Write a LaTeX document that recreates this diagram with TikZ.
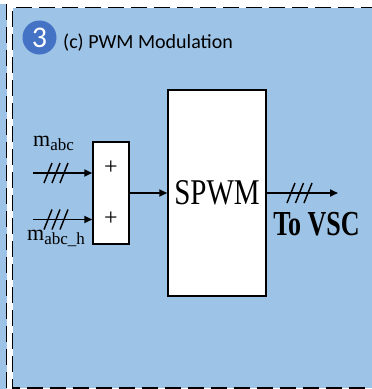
\documentclass[tikz,border=0pt]{standalone}
\usepackage{fontspec}
\setmainfont{Liberation Serif}
\newfontfamily\titlefont{Carlito}
\usetikzlibrary{arrows.meta,positioning}
\definecolor{panelblue}{RGB}{157,195,230}
\definecolor{badgeblue}{RGB}{68,114,196}

\begin{document}
\begin{tikzpicture}[x=1pt, y=-1pt, >={Triangle[length=8pt,width=7pt]},
    frame/.style={black, line width=1.8pt, dash pattern=on 16pt off 7pt},
    blk/.style={draw, fill=white, line width=1.5pt, inner sep=0pt},
    sig/.style={->, line width=1.8pt},
    tick/.style={line width=1.4pt}]
    \useasboundingbox (0,0) rectangle (372,389);
    \begin{scope}
        \clip (0,0) rectangle (372,389);
        % neighbouring panel
        \fill[panelblue] (-20,4) rectangle (6.5,400);
        \draw[frame] (6.5,4) -- (6.5,400);
        % panel (c)
        \fill[panelblue] (12.5,7.5) rectangle (400,388);
        \draw[frame] (400,7.5) -- (12.5,7.5) -- (12.5,388) -- (400,388);
    \end{scope}

    \node[circle, fill=badgeblue, minimum size=34pt, inner sep=0pt, text=white,
          font=\titlefont\fontsize{30}{30}\selectfont] (badge) at (39.5,37.5) {3};
    \node[anchor=west, inner sep=0pt, font=\titlefont\fontsize{20}{20}\selectfont] (title) at (63,43) {(c) PWM Modulation};

    \node[blk, minimum width=36pt, minimum height=102pt] (sum) at (111,193) {};
    \node[font=\fontsize{24}{24}\selectfont] (plusa) at (111,168) {+};
    \node[font=\fontsize{24}{24}\selectfont] (plusb) at (111,219) {+};
    \node[blk, minimum width=98pt, minimum height=206pt] (spwm) at (217,193)
        {\scalebox{1}[1.25]{\fontsize{29}{29}\selectfont SPWM}};

    \coordinate (ina) at (33,173);
    \coordinate (inb) at (33,219.5);
    \coordinate (out) at (338,193);

    \node[anchor=base west, inner sep=0pt] (labela) at (33,146.7)
        {\fontsize{22}{22}\selectfont m\raisebox{-4pt}{\fontsize{17}{17}\selectfont abc}};
    \node[anchor=base west, inner sep=0pt] (labelb) at (27,240)
        {\fontsize{22}{22}\selectfont m\raisebox{-4pt}{\fontsize{17}{17}\selectfont abc\_h}};

    \draw[sig] (ina) -- (ina -| sum.west);
    \draw[sig] (inb) -- (inb -| sum.west);
    \draw[sig] (sum.east) -- (spwm.west);
    \draw[sig] (spwm.east) -- (out);

    \foreach \sx in {48,56,64} {
        \draw[tick] (\sx-4,183) -- (\sx+4,163);
        \draw[tick] (\sx-4,229.5) -- (\sx+4,209.5);
    }
    \foreach \sx in {291,299.5,308}
        \draw[tick] (\sx-4,203) -- (\sx+4,183);

    \node[anchor=north, inner sep=0pt] (tovsc) at (316.5,212)
        {\scalebox{1}[1.35]{\bfseries\fontsize{26}{26}\selectfont To VSC}};
\end{tikzpicture}
\end{document}
